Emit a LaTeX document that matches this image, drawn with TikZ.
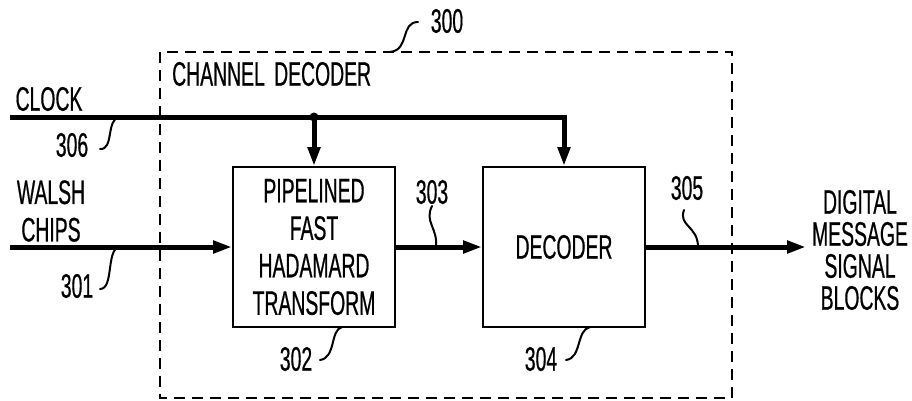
\documentclass[tikz,border=0pt]{standalone}
\usepackage{fontspec}
\setmainfont[FakeStretch=0.57, FakeBold=0.5]{Liberation Sans}
\usetikzlibrary{arrows.meta}
\tikzset{
  lbl/.style={inner sep=0pt, font=\fontsize{34}{37.5}\selectfont, align=center},
  blk/.style={draw, line width=1.8pt, minimum width=162pt, minimum height=160pt, inner sep=0pt, align=center, font=\fontsize{34}{37.5}\selectfont},
  bus/.style={line width=5pt},
  tip/.style={-{Triangle[length=19pt,width=12pt]}},
  leader/.style={line width=2pt, line cap=round},
  frame/.style={line width=1.8pt, dash pattern=on 11pt off 7pt}
}
\begin{document}
\begin{tikzpicture}[x=1pt,y=-1pt]
\useasboundingbox[fill=white] (0,0) rectangle (912,400);
% frame
\draw[frame] (160,52) rectangle (732,398);
\node[lbl, anchor=west] (cd) at (172,74) {CHANNEL\hspace{4pt} DECODER};
\node[lbl] (n300) at (447,21) {300};
\coordinate (f300) at (390,52);
\draw[leader] (418,22) .. controls (400,22) and (410,50) .. (f300);
% blocks
\node[blk] (fht) at (314,247) {PIPELINED\\FAST\\HADAMARD\\TRANSFORM};
\node[blk] (dec) at (564,247) {DECODER};
% clock
\coordinate (clk) at (10,117);
\coordinate (jn) at (fht.north |- clk);
\coordinate (cr) at (dec.north |- clk);
\draw[bus, tip] (clk) -- (cr) -- (dec.north);
\draw[bus, tip] (jn) -- (fht.north);
\fill (jn) circle (4.5pt);
\node[lbl] (clock) at (49,99) {CLOCK};
\node[lbl] (n306) at (72,145) {306};
\coordinate (l306) at (119,117);
\draw[leader] (100,149) .. controls (114,150) and (106,120) .. (l306);
% walsh
\coordinate (win) at (10,247);
\draw[bus, tip] (win) -- (fht.west);
\node[lbl] (walsh) at (51,211) {WALSH\\CHIPS};
\node[lbl] (n301) at (77,286) {301};
\coordinate (l301) at (119,247);
\draw[leader] (100,289) .. controls (114,289) and (106,250) .. (l301);
% 303
\draw[bus, tip] (fht.east) -- (dec.west);
\node[lbl] (n303) at (432,192) {303};
\coordinate (l303) at (436,247);
\draw[leader] (432,206) .. controls (424,222) and (438,228) .. (l303);
% 305
\coordinate (out) at (806,247);
\draw[bus, tip] (dec.east) -- (out);
\node[lbl] (n305) at (687,188) {305};
\coordinate (l305) at (698,247);
\draw[leader] (684,210) .. controls (678,226) and (698,226) .. (l305);
\node[lbl, font=\fontsize{34}{32}\selectfont] (dmsb) at (860,250) {DIGITAL\\MESSAGE\\SIGNAL\\BLOCKS};
% 302, 304
\node[lbl] (n302) at (296,359) {302};
\coordinate (l302) at (342,327);
\draw[leader] (320,360) .. controls (336,358) and (330,330) .. (l302);
\node[lbl] (n304) at (541,359) {304};
\coordinate (l304) at (590,327);
\draw[leader] (566,360) .. controls (582,358) and (576,330) .. (l304);
\end{tikzpicture}
\end{document}
